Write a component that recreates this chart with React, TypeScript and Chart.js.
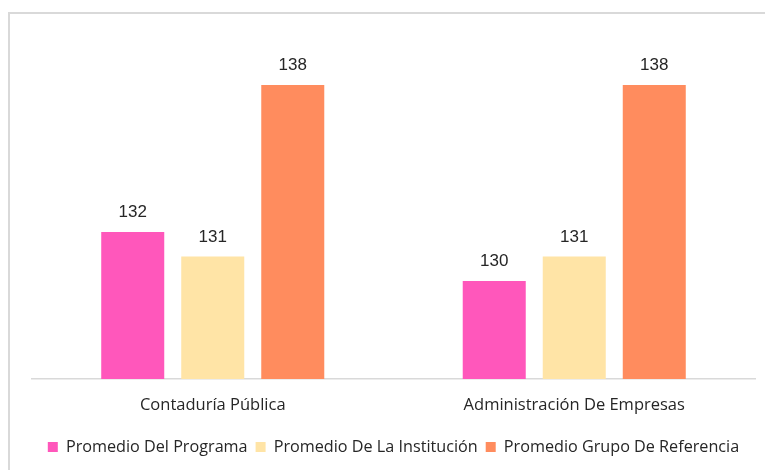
import React, { useEffect, useRef } from "react";
import { Chart, registerables } from "chart.js";

Chart.register(...registerables);

const categories = ["Contaduría Pública", "Administración De Empresas"];
const seriesNames = ["Promedio Del Programa", "Promedio De La Institución", "Promedio Grupo De Referencia"];
const programa = [132, 130];
const institucion = [131, 131];
const referencia = [138, 138];
const colors = ["#FF57BB", "#FFE4A6", "#FF8C5E"];

const textFont = "'Open Sans', 'DejaVu Sans', sans-serif";

const valueLabels = {
  id: "valueLabels",
  afterDatasetsDraw(chart: any) {
    const ctx = chart.ctx;
    ctx.save();
    ctx.font = "17px 'Liberation Sans', Arial, sans-serif";
    ctx.fillStyle = "#262626";
    ctx.textAlign = "center";
    ctx.textBaseline = "middle";
    chart.data.datasets.forEach((ds: any, i: number) => {
      const meta = chart.getDatasetMeta(i);
      meta.data.forEach((el: any, j: number) => {
        ctx.fillText(String(ds.data[j]), el.x, el.y - 19.5);
      });
    });
    ctx.restore();
  },
};

export default function App() {
  const ref = useRef<HTMLCanvasElement>(null);
  useEffect(() => {
    document.documentElement.style.overflow = "hidden";
    const data = [programa, institucion, referencia];
    const chart = new Chart(ref.current!, {
      type: "bar",
      data: {
        labels: categories,
        datasets: seriesNames.map((n, i) => ({
          label: n,
          data: data[i],
          backgroundColor: colors[i],
          borderWidth: 0,
          categoryPercentage: 0.664,
          barPercentage: 0.7875,
        })),
      },
      options: {
        animation: false,
        responsive: false,
        maintainAspectRatio: false,
        layout: { padding: { left: 32, right: 10, top: 36, bottom: 5 } },
        plugins: {
          tooltip: { enabled: false },
          title: { display: false },
          legend: {
            position: "bottom",
            labels: {
              boxWidth: 10,
              boxHeight: 10,
              padding: 8,
              color: "#262626",
              font: { family: textFont, size: 16.2 },
            },
          },
        },
        scales: {
          x: {
            grid: { display: false, drawTicks: false },
            border: { display: true, color: "#d9d9d9", width: 1.5 },
            ticks: {
              padding: 16,
              color: "#262626",
              font: { family: textFont, size: 16.5 },
            },
          },
          y: {
            display: false,
            min: 126,
            max: 140,
          },
        },
      },
      plugins: [valueLabels],
    });
    return () => chart.destroy();
  }, []);
  return (
    <div>
      <div
        style={{
          position: "fixed",
          left: 8,
          top: 12,
          width: 800,
          height: 500,
          border: "2px solid #d9d9d9",
          boxSizing: "border-box",
        }}
      />
      <canvas
        ref={ref}
        width={765}
        height={470}
        style={{ position: "fixed", left: 0, top: 0, width: 765, height: 470 }}
      />
    </div>
  );
}
